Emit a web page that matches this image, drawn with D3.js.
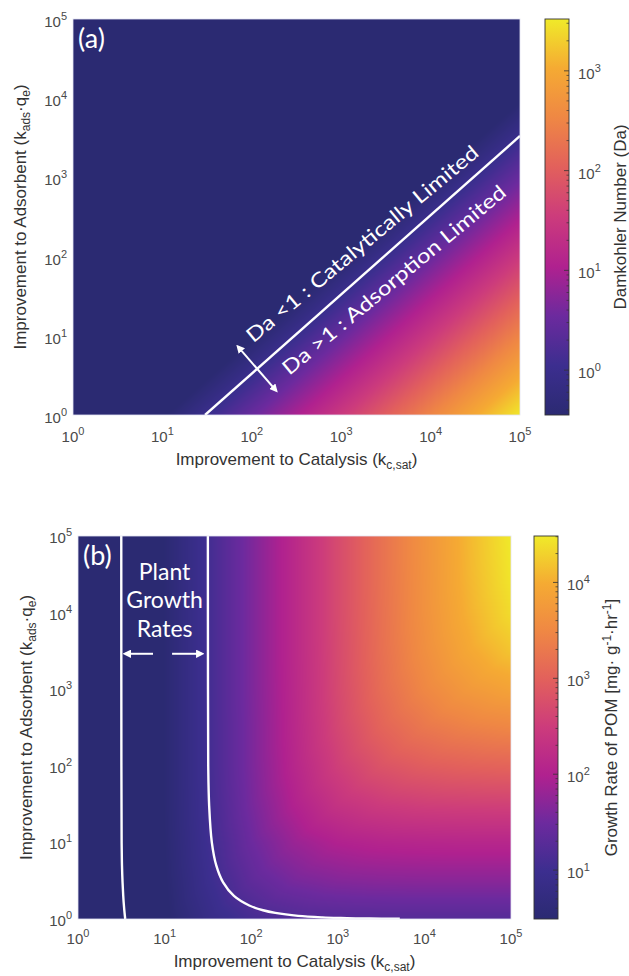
<!DOCTYPE html>
<html>
<head>
<meta charset="utf-8">
<script src="https://cdn.jsdelivr.net/npm/d3@7/dist/d3.min.js"></script>
<style>
  body { margin: 0; background: #fff; }
  svg { display: block; }
</style>
</head>
<body>
<svg id="fig" width="629" height="976"></svg>
<script>
// ---- values ----
const decades = [1, 10, 100, 1e3, 1e4, 1e5];
// log10 node positions of the sampled grid (same on both axes)
const gridLog = [0, 0.5, 1, 1.5, 2, 2.5, 3, 3.5, 4, 4.5, 5];

// log10(Da) at the grid nodes, rows = kads from 10^0 (first) to 10^5 (last)
const daLog = [
  [-0.5, -0.5, -0.5, 0.0, 0.5, 1.0, 1.5, 2.0, 2.5, 3.0, 3.5],
  [-0.5, -0.5, -0.5, -0.5, 0.0, 0.5, 1.0, 1.5, 2.0, 2.5, 3.0],
  [-0.5, -0.5, -0.5, -0.5, -0.5, 0.0, 0.5, 1.0, 1.5, 2.0, 2.5],
  [-0.5, -0.5, -0.5, -0.5, -0.5, -0.5, 0.0, 0.5, 1.0, 1.5, 2.0],
  [-0.5, -0.5, -0.5, -0.5, -0.5, -0.5, -0.5, 0.0, 0.5, 1.0, 1.5],
  [-0.5, -0.5, -0.5, -0.5, -0.5, -0.5, -0.5, -0.5, 0.0, 0.5, 1.0],
  [-0.5, -0.5, -0.5, -0.5, -0.5, -0.5, -0.5, -0.5, -0.5, 0.0, 0.5],
  [-0.5, -0.5, -0.5, -0.5, -0.5, -0.5, -0.5, -0.5, -0.5, -0.5, 0.0],
  [-0.5, -0.5, -0.5, -0.5, -0.5, -0.5, -0.5, -0.5, -0.5, -0.5, -0.5],
  [-0.5, -0.5, -0.5, -0.5, -0.5, -0.5, -0.5, -0.5, -0.5, -0.5, -0.5],
  [-0.5, -0.5, -0.5, -0.5, -0.5, -0.5, -0.5, -0.5, -0.5, -0.5, -0.5]
];

// log10(growth rate of POM) at the grid nodes, same layout
const growthLog = [
  [-0.51, -0.02, 0.43, 0.84, 1.09, 1.20, 1.24, 1.25, 1.25, 1.25, 1.25],
  [-0.50, -0.01, 0.47, 0.96, 1.35, 1.57, 1.66, 1.69, 1.70, 1.70, 1.70],
  [-0.50, 0.00, 0.49, 1.01, 1.48, 1.82, 2.00, 2.07, 2.09, 2.10, 2.10],
  [-0.50, 0.00, 0.50, 1.04, 1.56, 2.01, 2.34, 2.49, 2.55, 2.57, 2.58],
  [-0.50, 0.00, 0.50, 1.05, 1.59, 2.10, 2.54, 2.82, 2.95, 3.01, 3.04],
  [-0.50, 0.00, 0.50, 1.05, 1.59, 2.13, 2.64, 3.03, 3.28, 3.41, 3.48],
  [-0.50, 0.00, 0.50, 1.05, 1.60, 2.14, 2.68, 3.14, 3.49, 3.74, 3.88],
  [-0.50, 0.00, 0.50, 1.05, 1.60, 2.15, 2.69, 3.18, 3.59, 3.94, 4.19],
  [-0.50, 0.00, 0.50, 1.05, 1.60, 2.15, 2.70, 3.19, 3.63, 4.03, 4.37],
  [-0.50, 0.00, 0.50, 1.05, 1.60, 2.15, 2.70, 3.20, 3.64, 4.07, 4.45],
  [-0.50, 0.00, 0.50, 1.05, 1.60, 2.15, 2.70, 3.20, 3.65, 4.08, 4.48]
];

// Da = 1 boundary (panel a)
const daLineKc = [30, 1e5];
const daLineKads = [1, 3333];

// plant growth rate contours (panel b)
const lowContourKc = [3.16, 3.17, 3.19, 3.22, 3.27, 3.33, 3.39, 3.45, 3.51];
const lowContourKads = [1e5, 100, 10, 5, 3, 2, 1.5, 1.2, 1];
const highContourKc = [31.6, 31.7, 31.9, 32.7, 35.1, 39.5, 47.4, 63.2, 95, 137, 190, 348, 664, 1085, 1612, 3190, 5200];
const highContourKads = [1e5, 1e3, 100, 30, 10, 5, 3, 2, 1.5, 1.3, 1.2, 1.1, 1.05, 1.03, 1.02, 1.01, 1.006];

// colour bars
const daRange = [0.355, 3310];
const daTicks = [1, 10, 100, 1000];
const growthRange = [3.09, 30500];
const growthTicks = [10, 100, 1000, 1e4];
const palette = ['#2b2a72', '#3c2e8f', '#6c2a9e', '#b0218f', '#cc3b7c', '#e2605c', '#ef8744', '#f5aa33', '#f0ea29'];

// annotations (data coordinates)
const daLabels = ['Da <1 : Catalytically Limited', 'Da >1 : Adsorption Limited'];
const daLabelKc = [104, 263];
const daLabelKads = [8.0, 3.1];
const daLabelLength = [295, 284];
const daArrowKc = [70, 187];
const daArrowKads = [7.3, 2.03];
const plantText = ['Plant', 'Growth', 'Rates'];
const plantTextKc = 10;
const plantTextKads = 2.7e4;
const plantArrowFromKc = [7.35, 12.2];
const plantArrowToKc = [3.5, 27];
const plantArrowKads = 2900;

// ---- drawing ----
const svg = d3.select('#fig');
const defs = svg.append('defs');
const tickFont = '"Liberation Sans", Arial, sans-serif';
const noteFont = 'Lato, "Open Sans", sans-serif';

defs.append('marker')
  .attr('id', 'head')
  .attr('viewBox', '0 0 10 10')
  .attr('refX', 7).attr('refY', 5)
  .attr('markerWidth', 4.2).attr('markerHeight', 4.2)
  .attr('orient', 'auto-start-reverse')
  .append('path').attr('d', 'M0,0L10,5L0,10z').attr('fill', '#fff');

const interp = d3.piecewise(d3.interpolateRgb, palette);

function sampleField(field, lx, ly) {
  const n = gridLog.length - 1;
  const i = Math.max(0, Math.min(n - 1, d3.bisectRight(gridLog, lx) - 1));
  const j = Math.max(0, Math.min(n - 1, d3.bisectRight(gridLog, ly) - 1));
  const u = (lx - gridLog[i]) / (gridLog[i + 1] - gridLog[i]);
  const v = (ly - gridLog[j]) / (gridLog[j + 1] - gridLog[j]);
  const f00 = field[j][i], f10 = field[j][i + 1], f01 = field[j + 1][i], f11 = field[j + 1][i + 1];
  return u >= v ? f00 + u * (f10 - f00) + v * (f11 - f10)
                : f00 + v * (f01 - f00) + u * (f11 - f01);
}

function powLabel(sel, supSize, supDy) {
  sel.append('tspan').text('10');
  sel.append('tspan')
    .attr('dy', supDy)
    .attr('font-size', supSize)
    .text(d => Math.round(Math.log10(d)));
}

function drawPanel(cfg) {
  const x = d3.scaleLog().domain([1, 1e5]).range([cfg.l, cfg.r]);
  const y = d3.scaleLog().domain([1, 1e5]).range([cfg.b, cfg.t]);
  const color = d3.scaleSequentialLog(interp).domain(cfg.range).clamp(true);
  const g = svg.append('g').attr('class', 'panel');

  // heat map raster
  const w = cfg.r - cfg.l, h = cfg.b - cfg.t;
  const cv = document.createElement('canvas');
  cv.width = w; cv.height = h;
  const ctx = cv.getContext('2d');
  const im = ctx.createImageData(w, h);
  for (let j = 0; j < h; j++) {
    const ly = Math.log10(y.invert(cfg.t + j + 0.5));
    for (let i = 0; i < w; i++) {
      const lx = Math.log10(x.invert(cfg.l + i + 0.5));
      const c = d3.rgb(color(Math.pow(10, sampleField(cfg.field, lx, ly))));
      const k = 4 * (j * w + i);
      im.data[k] = c.r; im.data[k + 1] = c.g; im.data[k + 2] = c.b; im.data[k + 3] = 255;
    }
  }
  ctx.putImageData(im, 0, 0);
  g.append('image')
    .attr('href', cv.toDataURL())
    .attr('x', cfg.l).attr('y', cfg.t)
    .attr('width', w).attr('height', h)
    .attr('preserveAspectRatio', 'none');

  defs.append('clipPath').attr('id', `clip-${cfg.id}`)
    .append('rect').attr('x', cfg.l).attr('y', cfg.t).attr('width', w).attr('height', h);

  const lines = g.append('g').attr('clip-path', `url(#clip-${cfg.id})`);
  const line = d3.line()
    .x(d => x(d[0]))
    .y(d => y(d[1]))
    .curve(d3.curveCatmullRom.alpha(0.5));
  cfg.curves.forEach(c => {
    lines.append('path')
      .datum(d3.zip(c.kc, c.kads))
      .attr('d', line)
      .attr('fill', 'none')
      .attr('stroke', '#fff')
      .attr('stroke-width', 2.4);
  });

  // faint axes box
  g.append('rect')
    .attr('x', cfg.l).attr('y', cfg.t).attr('width', w).attr('height', h)
    .attr('fill', 'none').attr('stroke', '#e4e4f2').attr('stroke-width', 0.8);

  // panel letter
  g.append('text')
    .attr('x', cfg.l + cfg.letterDx).attr('y', cfg.t + 29)
    .attr('font-family', noteFont).attr('font-size', 27)
    .attr('fill', '#fff')
    .text(cfg.letter);

  // tick labels
  g.append('g').selectAll('text')
    .data(decades)
    .join('text')
    .attr('x', d => x(d)).attr('y', cfg.b + cfg.xTickDy)
    .attr('text-anchor', 'middle')
    .attr('font-family', tickFont).attr('font-size', 15)
    .attr('fill', '#4a4a4a')
    .call(powLabel, 11, -7);

  g.append('g').selectAll('text')
    .data(decades)
    .join('text')
    .attr('x', cfg.l - 6).attr('y', d => y(d) + cfg.yTickDy)
    .attr('text-anchor', 'end')
    .attr('font-family', tickFont).attr('font-size', 15)
    .attr('fill', '#4a4a4a')
    .call(powLabel, 11, -7);

  // axis titles
  const xt = g.append('text')
    .attr('x', (cfg.l + cfg.r) / 2).attr('y', cfg.b + cfg.xTitleDy)
    .attr('text-anchor', 'middle')
    .attr('font-family', tickFont).attr('font-size', 17)
    .attr('fill', '#333');
  xt.append('tspan').text('Improvement to Catalysis (k');
  xt.append('tspan').attr('dy', 4).attr('font-size', 12).text('c,sat');
  xt.append('tspan').attr('dy', -4).text(')');

  const yt = g.append('text')
    .attr('transform', `translate(${cfg.yTitleX},${(cfg.t + cfg.b) / 2}) rotate(-90)`)
    .attr('text-anchor', 'middle')
    .attr('font-family', tickFont).attr('font-size', 17)
    .attr('fill', '#333');
  yt.append('tspan').text('Improvement to Adsorbent (k');
  yt.append('tspan').attr('dy', 4).attr('font-size', 12).text('ads');
  yt.append('tspan').attr('dy', -4).text('\u00b7q');
  yt.append('tspan').attr('dy', 4).attr('font-size', 12).text('e');
  yt.append('tspan').attr('dy', -4).text(')');

  // colour bar
  const cy = d3.scaleLog().domain(cfg.range).range([cfg.b, cfg.t]);
  const gradId = `grad-${cfg.id}`;
  const grad = defs.append('linearGradient').attr('id', gradId)
    .attr('x1', 0).attr('y1', 1).attr('x2', 0).attr('y2', 0);
  grad.selectAll('stop').data(palette).join('stop')
    .attr('offset', (d, i) => i / (palette.length - 1))
    .attr('stop-color', d => d);
  const cb = g.append('g');
  cb.append('rect')
    .attr('x', cfg.cbx).attr('y', cfg.t).attr('width', 24).attr('height', h)
    .attr('fill', `url(#${gradId})`)
    .attr('stroke', '#333').attr('stroke-width', 0.9);
  const minor = cy.ticks().filter(d => !cfg.cbTicks.includes(d));
  cb.selectAll('.minor').data(minor).join('line').attr('class', 'minor')
    .attr('x1', cfg.cbx + 24 - 2.5).attr('x2', cfg.cbx + 24)
    .attr('y1', d => cy(d)).attr('y2', d => cy(d))
    .attr('stroke', '#333').attr('stroke-width', 0.7);
  cb.selectAll('.major').data(cfg.cbTicks).join('line').attr('class', 'major')
    .attr('x1', cfg.cbx + 24 - 5).attr('x2', cfg.cbx + 24)
    .attr('y1', d => cy(d)).attr('y2', d => cy(d))
    .attr('stroke', '#333').attr('stroke-width', 0.8);
  cb.selectAll('text').data(cfg.cbTicks).join('text')
    .attr('x', cfg.cbx + 24 + 9).attr('y', d => cy(d) + 8)
    .attr('font-family', tickFont).attr('font-size', 15)
    .attr('fill', '#4a4a4a')
    .call(powLabel, 11, -7);

  const ct = g.append('text')
    .attr('transform', `translate(${cfg.cbTitleX},${(cfg.t + cfg.b) / 2}) rotate(-90)`)
    .attr('text-anchor', 'middle')
    .attr('font-family', tickFont).attr('font-size', 17)
    .attr('fill', '#333');
  cfg.cbTitle(ct);

  return { x, y, g };
}

// panel (a)
const A = drawPanel({
  id: 'a', letter: '(a)', letterDx: 5,
  l: 73, r: 520, t: 19, b: 415, cbx: 545,
  field: daLog, range: daRange, cbTicks: daTicks,
  xTickDy: 27, yTickDy: 8, xTitleDy: 50, yTitleX: 25.5, cbTitleX: 626,
  curves: [{ kc: daLineKc, kads: daLineKads }],
  cbTitle: t => t.text('Damkohler Number (Da)')
});

// Da annotations
{
  const p0 = [A.x(daLineKc[0]), A.y(daLineKads[0])];
  const p1 = [A.x(daLineKc[1]), A.y(daLineKads[1])];
  const ang = Math.atan2(p1[1] - p0[1], p1[0] - p0[0]) * 180 / Math.PI + 1.8;
  A.g.selectAll('.da-label').data(daLabels).join('text').attr('class', 'da-label')
    .attr('transform', (d, i) => `translate(${A.x(daLabelKc[i])},${A.y(daLabelKads[i])}) rotate(${ang})`)
    .attr('font-family', noteFont).attr('font-size', 20)
    .attr('fill', '#fff')
    .attr('textLength', (d, i) => daLabelLength[i])
    .attr('lengthAdjust', 'spacingAndGlyphs')
    .text(d => d);
  A.g.append('line')
    .attr('x1', A.x(daArrowKc[0])).attr('y1', A.y(daArrowKads[0]))
    .attr('x2', A.x(daArrowKc[1])).attr('y2', A.y(daArrowKads[1]))
    .attr('stroke', '#fff').attr('stroke-width', 2)
    .attr('marker-start', 'url(#head)').attr('marker-end', 'url(#head)');
}

// panel (b)
const B = drawPanel({
  id: 'b', letter: '(b)', letterDx: 5,
  l: 78, r: 511, t: 536, b: 919, cbx: 534,
  field: growthLog, range: growthRange, cbTicks: growthTicks,
  xTickDy: 25, yTickDy: 7, xTitleDy: 48, yTitleX: 32, cbTitleX: 617,
  curves: [
    { kc: lowContourKc, kads: lowContourKads },
    { kc: highContourKc, kads: highContourKads }
  ],
  cbTitle: t => {
    t.append('tspan').text('Growth Rate of POM [mg\u00b7 g');
    t.append('tspan').attr('dy', -6).attr('font-size', 12).text('-1');
    t.append('tspan').attr('dy', 6).text('\u00b7hr');
    t.append('tspan').attr('dy', -6).attr('font-size', 12).text('-1');
    t.append('tspan').attr('dy', 6).text(']');
  }
});

B.g.selectAll('.plant').data(plantText).join('text').attr('class', 'plant')
  .attr('x', B.x(plantTextKc))
  .attr('y', (d, i) => B.y(plantTextKads) + i * 28.5)
  .attr('text-anchor', 'middle')
  .attr('font-family', noteFont).attr('font-size', 23)
  .attr('fill', '#fff')
  .text(d => d);

B.g.selectAll('.plant-arrow').data(plantArrowFromKc).join('line').attr('class', 'plant-arrow')
  .attr('x1', d => B.x(d)).attr('x2', (d, i) => B.x(plantArrowToKc[i]))
  .attr('y1', B.y(plantArrowKads)).attr('y2', B.y(plantArrowKads))
  .attr('stroke', '#fff').attr('stroke-width', 2)
  .attr('marker-end', 'url(#head)');
</script>
</body>
</html>
